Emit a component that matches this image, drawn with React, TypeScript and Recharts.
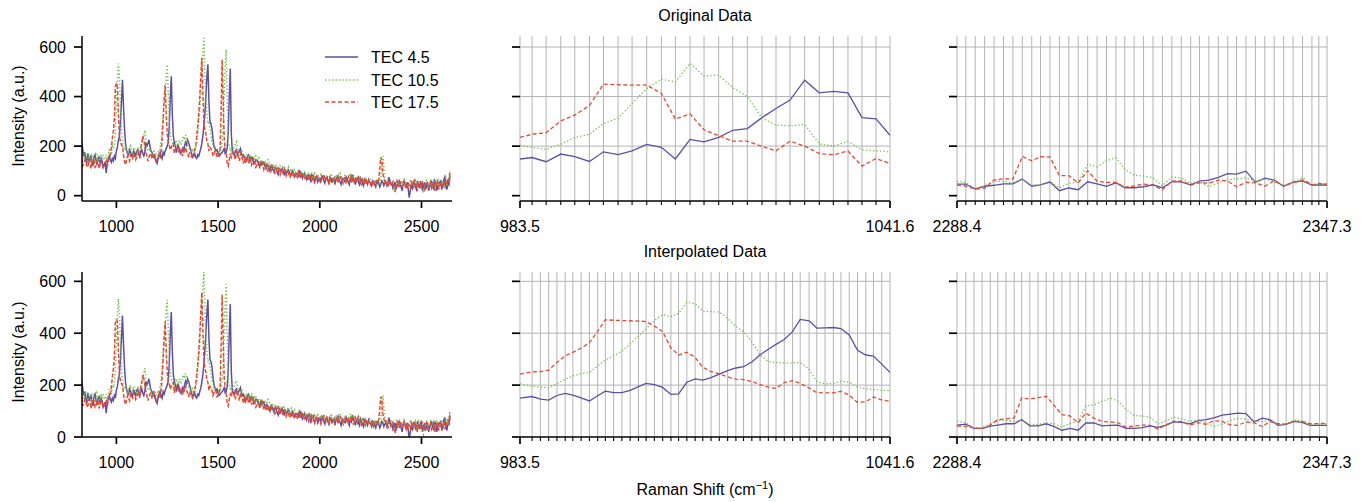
import React from 'react';
import { LineChart, Line, XAxis, YAxis, CartesianGrid } from 'recharts';

const FONT = '"Liberation Sans", Arial, Helvetica, sans-serif';

// ---------- series metadata ----------
const SERIES_NAMES = ['TEC 4.5', 'TEC 10.5', 'TEC 17.5'];
const SERIES_COLORS = ['#5e4fa2', '#72bf44', '#e04b35'];
const SERIES_DASH = [undefined, '1.3 2.2', '4 2.5'];

// ---------- full spectrum (left panels): readings on the 10 cm-1 grid ----------
const FULL_X = [
  830, 840, 850, 860, 870, 880, 890, 900, 910, 920,
  930, 940, 950, 960, 970, 980, 990, 1000, 1010, 1020,
  1030, 1040, 1050, 1060, 1070, 1080, 1090, 1100, 1110, 1120,
  1130, 1140, 1150, 1160, 1170, 1180, 1190, 1200, 1210, 1220,
  1230, 1240, 1250, 1260, 1270, 1280, 1290, 1300, 1310, 1320,
  1330, 1340, 1350, 1360, 1370, 1380, 1390, 1400, 1410, 1420,
  1430, 1440, 1450, 1460, 1470, 1480, 1490, 1500, 1510, 1520,
  1530, 1540, 1550, 1560, 1570, 1580, 1590, 1600, 1610, 1620,
  1630, 1640, 1650, 1660, 1670, 1680, 1690, 1700, 1710, 1720,
  1730, 1740, 1750, 1760, 1770, 1780, 1790, 1800, 1810, 1820,
  1830, 1840, 1850, 1860, 1870, 1880, 1890, 1900, 1910, 1920,
  1930, 1940, 1950, 1960, 1970, 1980, 1990, 2000, 2010, 2020,
  2030, 2040, 2050, 2060, 2070, 2080, 2090, 2100, 2110, 2120,
  2130, 2140, 2150, 2160, 2170, 2180, 2190, 2200, 2210, 2220,
  2230, 2240, 2250, 2260, 2270, 2280, 2290, 2300, 2310, 2320,
  2330, 2340, 2350, 2360, 2370, 2380, 2390, 2400, 2410, 2420,
  2430, 2440, 2450, 2460, 2470, 2480, 2490, 2500, 2510, 2520,
  2530, 2540, 2550, 2560, 2570, 2580, 2590, 2600, 2610, 2620,
  2630, 2640,
];
const FULL_TEC45 = [
  215, 160, 145, 170, 150, 135, 155, 140, 150, 130,
  140, 125, 92, 150, 145, 150, 160, 181, 225, 300,
  468, 270, 185, 165, 175, 160, 170, 180, 165, 175,
  170, 175, 200, 225, 180, 160, 150, 130, 165, 160,
  175, 180, 200, 280, 482, 240, 200, 190, 185, 175,
  180, 215, 225, 200, 170, 160, 155, 165, 175, 210,
  280, 400, 530, 300, 270, 200, 180, 170, 165, 175,
  190, 175, 260, 513, 180, 165, 185, 175, 190, 160,
  150, 150, 165, 140, 150, 135, 145, 125, 140, 130,
  120, 125, 110, 120, 105, 115, 95, 110, 100, 90,
  105, 95, 100, 85, 95, 80, 90, 100, 80, 85,
  75, 80, 70, 85, 65, 75, 55, 70, 80, 60,
  70, 60, 75, 55, 70, 65, 80, 55, 70, 60,
  75, 55, 70, 85, 60, 65, 55, 70, 50, 65,
  55, 65, 50, 60, 45, 55, 50, 45, 55, 50,
  40, 75, 45, 30, 55, 40, 60, 35, 50, 45,
  55, -8, 40, 55, 35, 60, 30, 50, 45, 25,
  55, 35, 60, 25, 50, 40, 55, 30, 65, 40,
  55, 80,
];
const FULL_TEC105 = [
  165, 150, 170, 140, 160, 135, 155, 145, 160, 140,
  150, 145, 165, 160, 180, 200, 210, 372, 533, 360,
  215, 185, 175, 185, 200, 175, 190, 170, 185, 200,
  230, 265, 200, 180, 170, 165, 175, 160, 170, 220,
  330, 420, 529, 300, 225, 205, 215, 200, 225, 210,
  240, 245, 210, 185, 175, 170, 190, 250, 350, 480,
  637, 400, 290, 270, 220, 190, 180, 170, 175, 220,
  400, 589, 220, 180, 190, 200, 217, 180, 170, 175,
  160, 165, 150, 160, 145, 155, 135, 150, 140, 125,
  135, 130, 140, 115, 125, 110, 120, 105, 115, 100,
  110, 105, 95, 110, 90, 100, 85, 95, 100, 80,
  90, 85, 75, 90, 80, 70, 85, 75, 65, 80,
  70, 75, 65, 80, 60, 85, 70, 90, 65, 75,
  60, 70, 90, 65, 75, 60, 80, 55, 70, 60,
  65, 55, 65, 50, 60, 45, 55, 70, 160, 75,
  50, 60, 45, 55, 20, 50, 40, 60, 45, 55,
  35, 45, 55, 35, 60, 40, 50, 30, 10, 55,
  45, 50, 35, 60, 40, 55, 45, 65, 35, 70,
  50, 100,
];
const FULL_TEC175 = [
  150, 130, 140, 120, 145, 125, 140, 120, 135, 125,
  130, 120, 140, 135, 165, 230, 310, 452, 330, 215,
  200, 140, 145, 150, 165, 150, 160, 155, 170, 190,
  240, 200, 160, 155, 170, 150, 160, 145, 165, 180,
  300, 446, 250, 205, 195, 210, 185, 200, 190, 175,
  190, 195, 170, 175, 160, 165, 200, 280, 400, 557,
  300, 250, 210, 195, 180, 170, 175, 160, 190, 549,
  230, 170, 120, 165, 175, 160, 180, 155, 170, 145,
  160, 145, 130, 155, 135, 140, 120, 135, 125, 130,
  115, 110, 120, 100, 115, 90, 110, 95, 105, 85,
  100, 90, 80, 95, 75, 90, 70, 85, 95, 75,
  80, 70, 85, 60, 80, 65, 75, 60, 70, 85,
  60, 65, 55, 75, 60, 70, 50, 80, 60, 70,
  55, 75, 60, 70, 55, 65, 80, 50, 65, 55,
  60, 60, 45, 55, 50, 60, 65, 155, 90, 55,
  45, 50, 40, 55, 15, 60, 35, 50, 55, 40,
  50, 40, 55, 30, 50, 20, 45, 60, 35, 50,
  40, 45, 30, 55, 35, 60, 40, 25, 60, 45,
  70, 95,
];

// ---------- full spectrum: readings at the in-between wavenumbers ----------
const HALF_X = [
  835, 845, 855, 865, 875, 885, 895, 905, 915, 925,
  935, 945, 955, 965, 975, 985, 995, 1005, 1015, 1025,
  1035, 1045, 1055, 1065, 1075, 1085, 1095, 1105, 1115, 1125,
  1135, 1145, 1155, 1165, 1175, 1185, 1195, 1205, 1215, 1225,
  1235, 1245, 1255, 1265, 1275, 1285, 1295, 1305, 1315, 1325,
  1335, 1345, 1355, 1365, 1375, 1385, 1395, 1405, 1415, 1425,
  1435, 1445, 1455, 1465, 1475, 1485, 1495, 1505, 1515, 1525,
  1535, 1545, 1555, 1565, 1575, 1585, 1595, 1605, 1615, 1625,
  1635, 1645, 1655, 1665, 1675, 1685, 1695, 1705, 1715, 1725,
  1735, 1745, 1755, 1765, 1775, 1785, 1795, 1805, 1815, 1825,
  1835, 1845, 1855, 1865, 1875, 1885, 1895, 1905, 1915, 1925,
  1935, 1945, 1955, 1965, 1975, 1985, 1995, 2005, 2015, 2025,
  2035, 2045, 2055, 2065, 2075, 2085, 2095, 2105, 2115, 2125,
  2135, 2145, 2155, 2165, 2175, 2185, 2195, 2205, 2215, 2225,
  2235, 2245, 2255, 2265, 2275, 2285, 2295, 2305, 2315, 2325,
  2335, 2345, 2355, 2365, 2375, 2385, 2395, 2405, 2415, 2425,
  2435, 2445, 2455, 2465, 2475, 2485, 2495, 2505, 2515, 2525,
  2535, 2545, 2555, 2565, 2575, 2585, 2595, 2605, 2615, 2625,
  2635,
];
const HALF_TEC45 = [
  185, 175, 130, 140, 160, 120, 165, 125, 155, 150,
  115, 135, 130, 160, 135, 140, 150, 195, 240, 380,
  360, 210, 170, 185, 160, 180, 160, 185, 160, 185,
  160, 215, 210, 200, 175, 165, 140, 150, 175, 150,
  165, 190, 215, 400, 330, 215, 180, 200, 170, 190,
  200, 205, 215, 185, 155, 170, 150, 160, 190, 240,
  330, 480, 380, 290, 230, 190, 185, 160, 170, 180,
  170, 195, 400, 250, 170, 180, 165, 180, 170, 165,
  140, 160, 150, 155, 130, 145, 135, 120, 125, 135,
  110, 120, 100, 115, 95, 110, 85, 105, 110, 85,
  90, 105, 80, 100, 75, 90, 75, 95, 70, 90,
  65, 85, 60, 80, 55, 75, 65, 60, 75, 50,
  75, 50, 70, 60, 50, 70, 65, 45, 65, 55,
  65, 45, 60, 70, 45, 70, 45, 60, 40, 60,
  45, 55, 40, 55, 35, 60, 35, 60, 40, 55,
  50, 55, 50, 40, 25, 50, 45, 20, 55, 30,
  25, 20, 30, 50, 25, 45, 55, 20, 50, 40,
  20, 45, 40, 60, 20, 45, 60, 35, 75, 25,
  45,
];
const HALF_TEC105 = [
  145, 175, 150, 165, 145, 165, 135, 170, 145, 160,
  165, 150, 140, 185, 165, 190, 260, 460, 480, 270,
  195, 200, 165, 190, 180, 195, 175, 195, 175, 215,
  245, 230, 185, 190, 160, 180, 165, 180, 195, 270,
  380, 480, 420, 250, 215, 195, 225, 210, 205, 230,
  225, 230, 195, 180, 190, 175, 215, 300, 420, 570,
  500, 330, 300, 245, 205, 195, 165, 185, 190, 300,
  520, 380, 195, 195, 180, 210, 195, 175, 185, 160,
  155, 170, 140, 165, 140, 160, 140, 130, 145, 130,
  120, 145, 125, 130, 115, 125, 110, 120, 105, 115,
  95, 115, 100, 95, 105, 90, 100, 85, 90, 95,
  80, 95, 85, 70, 90, 75, 70, 85, 80, 70,
  80, 60, 90, 70, 75, 65, 80, 75, 60, 85,
  70, 80, 60, 85, 65, 70, 60, 75, 50, 70,
  55, 70, 55, 65, 50, 60, 50, 110, 120, 60,
  65, 50, 60, 35, 40, 60, 55, 40, 65, 45,
  50, 60, 40, 50, 35, 60, 40, 20, 35, 60,
  40, 60, 45, 50, 60, 40, 55, 50, 60, 45,
  75,
];
const HALF_TEC175 = [
  120, 145, 115, 135, 110, 140, 115, 140, 110, 140,
  115, 135, 120, 150, 190, 260, 440, 448, 240, 205,
  165, 125, 160, 140, 155, 170, 145, 165, 150, 210,
  225, 175, 140, 165, 150, 170, 140, 155, 150, 230,
  390, 330, 215, 185, 205, 170, 195, 175, 185, 160,
  180, 180, 155, 160, 150, 185, 240, 330, 480, 420,
  265, 220, 180, 190, 160, 180, 155, 170, 350, 380,
  190, 130, 145, 155, 170, 145, 175, 140, 160, 130,
  130, 155, 140, 125, 150, 115, 140, 110, 140, 105,
  125, 100, 110, 120, 100, 95, 115, 85, 100, 110,
  80, 95, 75, 90, 80, 85, 95, 70, 85, 70,
  85, 60, 75, 70, 55, 80, 70, 50, 65, 70,
  75, 50, 70, 60, 45, 75, 60, 65, 50, 75,
  65, 55, 80, 50, 75, 55, 65, 45, 70, 45,
  50, 55, 60, 40, 65, 50, 110, 140, 70, 60,
  35, 60, 45, 30, 35, 50, 55, 35, 60, 30,
  55, 30, 45, 60, 35, 50, 30, 55, 25, 55,
  25, 55, 40, 20, 50, 25, 45, 40, 30, 55,
  50,
];
const FULL_X_TICKS = [1000, 1500, 2000, 2500];

// ---------- original data, 983.5 - 1041.6 ----------
const ORIG_LO_X = [983.5, 985.4, 987.6, 989.9, 992.1, 994.4, 996.6, 998.9, 1001.1, 1003.4, 1005.7, 1007.9, 1010.2, 1012.4, 1014.7, 1016.9, 1019.2, 1021.5, 1023.7, 1025.9, 1028.2, 1030.5, 1032.7, 1035.0, 1037.2, 1039.4, 1041.6];
const ORIG_LO_TEC45 = [148, 154, 137, 168, 158, 138, 177, 166, 181, 207, 195, 148, 227, 217, 235, 264, 271, 315, 352, 386, 466, 415, 421, 415, 315, 310, 244];
const ORIG_LO_TEC105 = [203, 195, 187, 208, 235, 247, 291, 313, 372, 433, 470, 459, 534, 483, 487, 436, 400, 313, 285, 282, 287, 209, 200, 219, 185, 181, 177];
const ORIG_LO_TEC175 = [235, 248, 254, 302, 325, 364, 450, 448, 446, 446, 413, 309, 330, 266, 242, 220, 220, 199, 181, 220, 200, 170, 165, 180, 119, 150, 130];

// ---------- original data, 2288.4 - 2347.3 ----------
const ORIG_HI_X = [2288.4, 2289.8, 2291.3, 2292.8, 2294.3, 2295.8, 2297.3, 2298.8, 2300.3, 2301.7, 2303.2, 2304.7, 2306.2, 2307.7, 2309.2, 2310.7, 2312.2, 2313.7, 2315.1, 2316.6, 2318.1, 2319.6, 2321.1, 2322.6, 2324.1, 2325.6, 2327.0, 2328.5, 2330.0, 2331.5, 2332.9, 2334.4, 2335.9, 2337.4, 2338.9, 2340.4, 2341.9, 2343.4, 2344.9, 2346.0, 2347.3];
const ORIG_HI_TEC45 = [47, 47, 27, 38, 42, 48, 48, 67, 38, 44, 55, 20, 31, 24, 56, 48, 38, 52, 32, 32, 36, 44, 32, 56, 56, 44, 59, 63, 74, 89, 87, 99, 54, 71, 63, 38, 55, 60, 43, 43, 43];
const ORIG_HI_TEC105 = [58, 54, 27, 40, 58, 58, 52, 67, 43, 44, 58, 31, 50, 54, 127, 117, 141, 153, 107, 83, 79, 72, 40, 76, 71, 50, 56, 36, 52, 64, 68, 72, 60, 67, 56, 40, 56, 72, 44, 47, 50];
const ORIG_HI_TEC175 = [43, 39, 27, 30, 64, 68, 67, 158, 141, 157, 156, 81, 81, 51, 101, 58, 54, 54, 34, 39, 47, 42, 24, 59, 60, 43, 52, 50, 63, 59, 36, 54, 52, 38, 60, 39, 52, 63, 44, 50, 46];

// ---------- interpolated data, 983.5 - 1041.6 ----------
const INTERP_LO_X = [983.5, 985.4, 986.7, 988.0, 989.3, 990.6, 991.8, 993.1, 994.4, 995.7, 996.9, 998.2, 999.5, 1000.8, 1002.1, 1003.3, 1004.6, 1005.9, 1007.2, 1008.4, 1009.7, 1011.0, 1012.2, 1013.5, 1014.8, 1016.1, 1017.4, 1018.6, 1019.9, 1021.2, 1022.5, 1023.7, 1025.0, 1026.3, 1027.5, 1028.9, 1030.1, 1031.4, 1032.7, 1033.9, 1035.2, 1036.5, 1037.8, 1039.0, 1040.3, 1041.6];
const INTERP_LO_TEC45 = [150, 156, 146, 142, 160, 168, 161, 151, 139, 159, 177, 171, 171, 180, 194, 207, 202, 191, 164, 166, 211, 224, 219, 229, 242, 256, 266, 271, 289, 317, 338, 357, 376, 406, 453, 448, 420, 421, 422, 418, 393, 334, 316, 312, 281, 249];
const INTERP_LO_TEC105 = [205, 196, 192, 190, 205, 223, 235, 244, 249, 274, 297, 313, 331, 359, 389, 417, 449, 472, 464, 476, 519, 514, 485, 483, 482, 457, 426, 406, 367, 316, 291, 287, 285, 285, 287, 262, 214, 205, 206, 215, 211, 193, 185, 183, 180, 179];
const INTERP_LO_TEC175 = [242, 251, 252, 258, 287, 313, 326, 343, 363, 408, 452, 450, 449, 448, 447, 445, 428, 406, 343, 316, 327, 307, 269, 252, 243, 232, 223, 221, 214, 202, 192, 187, 210, 217, 207, 189, 171, 170, 170, 176, 161, 133, 136, 154, 143, 137];

// ---------- interpolated data, 2288.4 - 2347.3 ----------
const INTERP_HI_X = [2288.4, 2289.8, 2291.1, 2292.4, 2293.7, 2294.9, 2296.2, 2297.5, 2298.7, 2300.0, 2301.3, 2302.6, 2303.8, 2305.1, 2306.4, 2307.7, 2308.9, 2310.2, 2311.5, 2312.8, 2314.0, 2315.3, 2316.6, 2317.9, 2319.1, 2320.4, 2321.7, 2322.9, 2324.2, 2325.5, 2326.8, 2328.0, 2329.3, 2330.6, 2331.9, 2333.1, 2334.4, 2335.7, 2337.0, 2338.2, 2339.5, 2340.8, 2342.0, 2343.3, 2344.6, 2346.1, 2347.3];
const INTERP_HI_TEC45 = [46, 49, 33, 33, 42, 46, 51, 51, 67, 43, 43, 51, 41, 26, 33, 26, 54, 54, 43, 45, 46, 33, 33, 36, 43, 37, 46, 58, 56, 51, 63, 67, 74, 84, 88, 92, 90, 58, 73, 67, 45, 49, 60, 56, 45, 45, 45];
const INTERP_HI_TEC105 = [61, 55, 35, 35, 50, 64, 64, 60, 65, 49, 49, 54, 52, 38, 52, 60, 120, 124, 137, 150, 139, 107, 83, 81, 77, 50, 63, 77, 69, 60, 67, 54, 41, 50, 64, 72, 69, 60, 60, 63, 50, 50, 65, 63, 47, 50, 51];
const INTERP_HI_TEC175 = [42, 41, 35, 31, 46, 67, 70, 74, 151, 146, 152, 157, 124, 86, 81, 55, 92, 73, 60, 58, 55, 38, 42, 46, 45, 31, 47, 61, 59, 46, 55, 49, 63, 60, 47, 45, 58, 55, 40, 60, 51, 50, 60, 60, 51, 52, 52];

const Y_TICKS = [0, 200, 400, 600];
const GRID_Y = [200, 400, 600];

// ---------- helpers ----------
type Pt = { x: number; y: number };
const zip = (xs: number[], ys: number[]): Pt[] => xs.map((x, i) => ({ x, y: ys[i] }));
const mergeSorted = (a: Pt[], b: Pt[]): Pt[] => [...a, ...b].sort((p, q) => p.x - q.x);

function makeLines(xs: number[], a: number[], b: number[], c: number[]) {
  return [a, b, c].map((ys, i) => ({
    name: SERIES_NAMES[i],
    color: SERIES_COLORS[i],
    dash: SERIES_DASH[i],
    data: zip(xs, ys),
  }));
}

function makeFullLines() {
  const main = [FULL_TEC45, FULL_TEC105, FULL_TEC175];
  const half = [HALF_TEC45, HALF_TEC105, HALF_TEC175];
  return main.map((ys, i) => ({
    name: SERIES_NAMES[i],
    color: SERIES_COLORS[i],
    dash: i === 2 ? '4 1.8' : SERIES_DASH[i],
    data: mergeSorted(zip(FULL_X, ys), zip(HALF_X, half[i])),
  }));
}

function XTick(p: any) {
  const { x, y, payload, majors, fmt } = p;
  const v = payload.value as number;
  const isMajor = !majors || majors.some((m: number) => Math.abs(m - v) < 1e-6);
  return (
    <g>
      <line x1={x} x2={x} y1={y} y2={y + (isMajor ? 7 : 4)} stroke="#000" strokeWidth={isMajor ? 1.7 : 1.1} />
      {isMajor && (
        <text x={x} y={y + 31} textAnchor="middle" fontSize={16} fontFamily={FONT} fill="#000">
          {fmt(v)}
        </text>
      )}
    </g>
  );
}

function YTick(p: any) {
  const { x, y, payload, labels } = p;
  return (
    <g>
      <line x1={x - 8} x2={x} y1={y} y2={y} stroke="#000" strokeWidth={1.7} />
      {labels && (
        <text x={x - 16} y={y} dy="0.36em" textAnchor="end" fontSize={16} fontFamily={FONT} fill="#000">
          {payload.value}
        </text>
      )}
    </g>
  );
}

type PanelProps = {
  left: number;
  top: number;
  w: number;
  h: number;
  xDomain: [number, number];
  yDomain: [number, number];
  xTicks: number[];
  majors: number[] | null;
  fmt: (v: number) => string;
  yLabels: boolean;
  ySpine: boolean;
  grid: boolean;
  lines: { name: string; color: string; dash?: string; data: Pt[] }[];
  lineWidth: number;
};

function Panel(props: PanelProps) {
  const ML = 80, MT = 6, MR = 40, MB = 44;
  const W = props.w + ML + MR;
  const H = props.h + MT + MB;
  return (
    <div style={{ position: 'absolute', left: props.left - ML, top: props.top - MT, width: W, height: H }}>
      <LineChart width={W} height={H} margin={{ top: MT, right: MR, bottom: 0, left: 0 }}>
        {props.grid && (
          <CartesianGrid stroke="#b4b4b4" strokeWidth={1} horizontalValues={GRID_Y} verticalValues={props.xTicks} />
        )}
        <XAxis
          type="number"
          dataKey="x"
          domain={props.xDomain}
          allowDataOverflow
          ticks={props.xTicks}
          interval={0}
          height={MB}
          tickSize={0}
          tickMargin={0}
          tickLine={false}
          axisLine={{ stroke: '#000', strokeWidth: 1.5 }}
          tick={(p: any) => <XTick {...p} majors={props.majors} fmt={props.fmt} />}
        />
        <YAxis
          type="number"
          domain={props.yDomain}
          allowDataOverflow
          ticks={Y_TICKS}
          interval={0}
          width={ML}
          tickSize={0}
          tickMargin={0}
          tickLine={false}
          axisLine={props.ySpine ? { stroke: '#000', strokeWidth: 1.5 } : false}
          tick={(p: any) => <YTick {...p} labels={props.yLabels} />}
        />
        {props.lines.map((s) => (
          <Line
            key={s.name}
            data={s.data}
            dataKey="y"
            name={s.name}
            type="linear"
            stroke={s.color}
            strokeWidth={props.lineWidth}
            strokeDasharray={s.dash}
            dot={false}
            activeDot={false}
            isAnimationActive={false}
          />
        ))}
      </LineChart>
    </div>
  );
}

const fmtInt = (v: number) => String(v);
const fmt1 = (v: number) => v.toFixed(1);

export default function App() {
  const TOP_Y = 36, BOT_Y = 272, PH = 165, PW = 370;
  const COL_X = [82, 520, 957];
  const topDomain: [number, number] = [-21.5, 644.5];
  const botDomain: [number, number] = [0, 636];

  const fullLines = makeFullLines();

  return (
    <div style={{ position: 'absolute', left: 0, top: 0, width: 1364, height: 502, background: '#fff', fontFamily: FONT }}>
      {/* Row 1: original data */}
      <Panel left={COL_X[0]} top={TOP_Y} w={PW} h={PH} xDomain={[831, 2650]} yDomain={topDomain}
        xTicks={FULL_X_TICKS} majors={null} fmt={fmtInt} yLabels ySpine grid={false} lines={fullLines} lineWidth={1.5} />
      <Panel left={COL_X[1]} top={TOP_Y} w={PW} h={PH} xDomain={[983.5, 1041.6]} yDomain={topDomain}
        xTicks={ORIG_LO_X} majors={[983.5, 1041.6]} fmt={fmt1} yLabels={false} ySpine={false} grid
        lines={makeLines(ORIG_LO_X, ORIG_LO_TEC45, ORIG_LO_TEC105, ORIG_LO_TEC175)} lineWidth={1.3} />
      <Panel left={COL_X[2]} top={TOP_Y} w={PW} h={PH} xDomain={[2288.4, 2347.3]} yDomain={topDomain}
        xTicks={ORIG_HI_X} majors={[2288.4, 2347.3]} fmt={fmt1} yLabels={false} ySpine={false} grid
        lines={makeLines(ORIG_HI_X, ORIG_HI_TEC45, ORIG_HI_TEC105, ORIG_HI_TEC175)} lineWidth={1.3} />

      {/* Row 2: interpolated data */}
      <Panel left={COL_X[0]} top={BOT_Y} w={PW} h={PH} xDomain={[831, 2650]} yDomain={botDomain}
        xTicks={FULL_X_TICKS} majors={null} fmt={fmtInt} yLabels ySpine grid={false} lines={fullLines} lineWidth={1.5} />
      <Panel left={COL_X[1]} top={BOT_Y} w={PW} h={PH} xDomain={[983.5, 1041.6]} yDomain={botDomain}
        xTicks={INTERP_LO_X} majors={[983.5, 1041.6]} fmt={fmt1} yLabels={false} ySpine={false} grid
        lines={makeLines(INTERP_LO_X, INTERP_LO_TEC45, INTERP_LO_TEC105, INTERP_LO_TEC175)} lineWidth={1.3} />
      <Panel left={COL_X[2]} top={BOT_Y} w={PW} h={PH} xDomain={[2288.4, 2347.3]} yDomain={botDomain}
        xTicks={INTERP_HI_X} majors={[2288.4, 2347.3]} fmt={fmt1} yLabels={false} ySpine={false} grid
        lines={makeLines(INTERP_HI_X, INTERP_HI_TEC45, INTERP_HI_TEC105, INTERP_HI_TEC175)} lineWidth={1.3} />

      {/* text overlay */}
      <svg width={1364} height={502} style={{ position: 'absolute', left: 0, top: 0, pointerEvents: 'none' }}>
        <text x={705} y={21} textAnchor="middle" fontSize={16} fontFamily={FONT} fill="#000">Original Data</text>
        <text x={705} y={257} textAnchor="middle" fontSize={16} fontFamily={FONT} fill="#000">Interpolated Data</text>
        <text x={705} y={495} textAnchor="middle" fontSize={16} fontFamily={FONT} fill="#000">
          Raman Shift (cm<tspan dy={-6} fontSize={11}>−1</tspan><tspan dy={6}>)</tspan>
        </text>
        <text transform="rotate(-90)" x={-116} y={24} textAnchor="middle" fontSize={16} fontFamily={FONT} fill="#000">Intensity (a.u.)</text>
        <text transform="rotate(-90)" x={-352} y={24} textAnchor="middle" fontSize={16} fontFamily={FONT} fill="#000">Intensity (a.u.)</text>

        {/* legend */}
        {SERIES_NAMES.map((n, i) => {
          const y = [57, 80, 102][i];
          return (
            <g key={n}>
              <line x1={325} x2={358} y1={y} y2={y} stroke={SERIES_COLORS[i]} strokeWidth={1.5} strokeDasharray={SERIES_DASH[i]} />
              <text x={371} y={y + 6} fontSize={16} fontFamily={FONT} fill="#000">{n}</text>
            </g>
          );
        })}
      </svg>
    </div>
  );
}
